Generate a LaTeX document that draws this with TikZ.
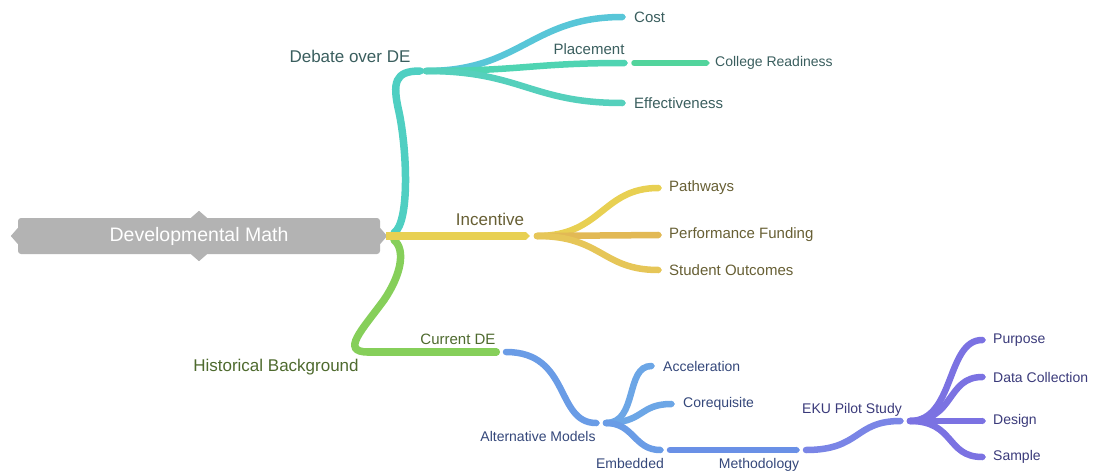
\documentclass[tikz,border=0pt]{standalone}
\usepackage{fontspec}
\setmainfont{Liberation Sans}
\usetikzlibrary{arrows.meta}
\definecolor{rootgray}{HTML}{B3B3B3}
\definecolor{teal1}{HTML}{4FCFC2}
\definecolor{cyanb}{HTML}{58C6D8}
\definecolor{tealg}{HTML}{4FD4B2}
\definecolor{teal2}{HTML}{55D0BC}
\definecolor{greent}{HTML}{52D49C}
\definecolor{yel1}{HTML}{E8D052}
\definecolor{yel2}{HTML}{E2B955}
\definecolor{yel3}{HTML}{E6C658}
\definecolor{grn}{HTML}{86CF5A}
\definecolor{blu1}{HTML}{6A9CE6}
\definecolor{blu2}{HTML}{6CA6E6}
\definecolor{blu3}{HTML}{6A90E6}
\definecolor{blu4}{HTML}{7A85E6}
\definecolor{purp}{HTML}{7B72E2}
\definecolor{ttxt}{HTML}{3A5E5E}
\definecolor{ytxt}{HTML}{675F34}
\definecolor{gtxt}{HTML}{4E6A2E}
\definecolor{btxt}{HTML}{34477A}
\definecolor{ptxt}{HTML}{3A3A7A}
\begin{document}
\begin{tikzpicture}[x=1pt,y=-1pt,
  br/.style={line width=#1, line cap=round, -{Triangle[length=4pt,width=0pt 1]}},
  br/.default=6.5pt,
  trunk/.style={line width=7.5pt, line cap=round},
  lone/.style={inner sep=0pt, font=\fontsize{17}{20}\selectfont},
  ltwo/.style={inner sep=0pt, font=\fontsize{15}{18}\selectfont},
  lthree/.style={inner sep=0pt, font=\fontsize{14}{17}\selectfont},
  leaf/.style={anchor=west, inner sep=0pt},
  rootbox/.style={fill=rootgray, rounded corners=3pt, minimum width=362pt, minimum height=36pt,
    text=white, font=\fontsize{19.5}{22}\selectfont, inner sep=0pt}
]
\useasboundingbox (0,0) rectangle (1098,474);

% root
\node[rootbox] (root) at (199,236) {Developmental Math};
\fill[rootgray] ([xshift=-8pt]root.north) -- ++(8,-7) -- ++(8,7) -- cycle;
\fill[rootgray] ([xshift=-8pt]root.south) -- ++(8,7) -- ++(8,-7) -- cycle;
\fill[rootgray] ([yshift=8pt]root.west) -- ++(-7,8) -- ++(7,8) -- cycle;
\fill[rootgray] ([yshift=8pt]root.east) -- ++(7,8) -- ++(-7,8) -- cycle;

% junction coordinates
\coordinate (tt) at (394,233);
\coordinate (gt) at (394,240);
\coordinate (deb) at (420,71);
\coordinate (deb2) at (426,71);
\coordinate (cost) at (626,17);
\coordinate (plac) at (628,63);
\coordinate (plac2) at (634,63);
\coordinate (coll) at (710,63);
\coordinate (eff) at (626,103);
\coordinate (yr) at (386,236);
\coordinate (inc) at (530,236);
\coordinate (inc2) at (537,236);
\coordinate (path) at (662,188);
\coordinate (perf) at (662,235);
\coordinate (stud) at (662,270);
\coordinate (hist) at (368,352);
\coordinate (cur) at (500,352);
\coordinate (cur2) at (506,352);
\coordinate (alt) at (600,423);
\coordinate (alt2) at (606,423);
\coordinate (acc) at (655,366);
\coordinate (coreq) at (675,404);
\coordinate (emb) at (664,450);
\coordinate (emb2) at (670,450);
\coordinate (meth) at (800,450);
\coordinate (meth2) at (806,450);
\coordinate (eku) at (904,421);
\coordinate (eku2) at (910,421);
\coordinate (purp) at (986,340);
\coordinate (datc) at (986,377);
\coordinate (desg) at (986,421);
\coordinate (samp) at (986,457);

% teal trunk
\draw[trunk, teal1] (tt) .. controls (410,222) and (407,150) .. (399,112)
   .. controls (392,82) and (395,71) .. (deb);
% green trunk
\draw[trunk, grn] (gt) .. controls (406,250) and (401,275) .. (384,300)
   .. controls (362,330) and (340,352) .. (hist);
\draw[br=7.5pt, grn] (hist) -- (cur);
% yellow
\draw[br=7.5pt, yel1, line cap=butt] (yr) -- (inc);

% debate branches
\draw[br, cyanb] (deb2) .. controls +(95,0) and +(-95,0) .. (cost);
\draw[br, tealg] (deb2) .. controls +(95,0) and +(-95,0) .. (plac);
\draw[br, teal2] (deb2) .. controls +(95,0) and +(-95,0) .. (eff);
\draw[br=5.5pt, greent] (plac2) -- (coll);

% incentive branches
\draw[br, yel1] (inc2) .. controls +(65,0) and +(-60,0) .. (path);
\draw[br, yel2] (inc2) -- (perf);
\draw[br, yel3] (inc2) .. controls +(65,0) and +(-60,0) .. (stud);

% current DE branches
\draw[br, blu1] (cur2) .. controls +(65,0) and +(-45,0) .. (alt);
\draw[br, blu2] (alt2) .. controls +(32,0) and +(-30,0) .. (acc);
\draw[br, blu2] (alt2) .. controls +(38,0) and +(-36,0) .. (coreq);
\draw[br, blu1] (alt2) .. controls +(28,0) and +(-30,0) .. (emb);
\draw[br, blu3] (emb2) -- (meth);
\draw[br, blu4] (meth2) .. controls +(55,0) and +(-50,0) .. (eku);
\draw[br, purp] (eku2) .. controls +(45,0) and +(-40,0) .. (purp);
\draw[br, purp] (eku2) .. controls +(45,0) and +(-40,0) .. (datc);
\draw[br, purp] (eku2) -- (desg);
\draw[br, purp] (eku2) .. controls +(45,0) and +(-40,0) .. (samp);

% labels
\node[lone, text=ttxt] (tdeb) at (350,56) {Debate over DE};
\node[lone, text=ytxt] (tinc) at (490,219) {Incentive};
\node[lone, text=gtxt] (this) at (276,367) {Historical Background};
\node[ltwo, leaf, text=ttxt] (tcost) at ([xshift=8pt]cost) {Cost};
\node[ltwo, text=ttxt] (tplac) at (589,49) {Placement};
\node[lthree, leaf, text=ttxt] (tcoll) at ([xshift=5pt]coll) {College Readiness};
\node[ltwo, leaf, text=ttxt] (teff) at ([xshift=8pt]eff) {Effectiveness};
\node[ltwo, leaf, text=ytxt] (tpath) at ([xshift=7pt]path) {Pathways};
\node[ltwo, leaf, text=ytxt] (tperf) at ([xshift=7pt]perf) {Performance Funding};
\node[ltwo, leaf, text=ytxt] (tstud) at ([xshift=7pt]stud) {Student Outcomes};
\node[ltwo, text=gtxt] (tcur) at (458,339) {Current DE};
\node[lthree, text=btxt] (talt) at (538,436) {Alternative Models};
\node[lthree, leaf, text=btxt] (tacc) at ([xshift=8pt]acc) {Acceleration};
\node[lthree, leaf, text=btxt] (tcoreq) at ([xshift=8pt]coreq) {Corequisite};
\node[lthree, text=btxt] (temb) at (630,463) {Embedded};
\node[lthree, text=btxt] (tmeth) at (759,465) {Methodology};
\node[lthree, text=ptxt] (teku) at (852,410) {EKU Pilot Study};
\node[lthree, leaf, text=ptxt] (tpurp) at ([xshift=7pt]purp) {Purpose};
\node[lthree, leaf, text=ptxt] (tdatc) at ([xshift=7pt]datc) {Data Collection};
\node[lthree, leaf, text=ptxt] (tdesg) at ([xshift=7pt]desg) {Design};
\node[lthree, leaf, text=ptxt] (tsamp) at ([xshift=7pt]samp) {Sample};
\end{tikzpicture}
\end{document}
